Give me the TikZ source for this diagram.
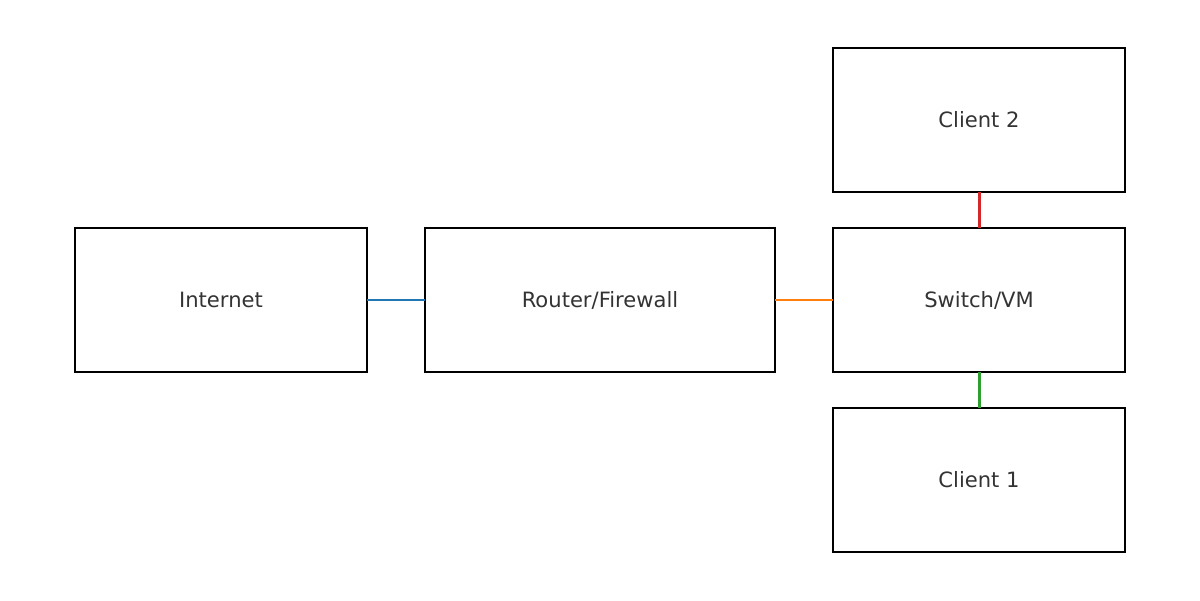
\documentclass[tikz,border=0pt]{standalone}
\usepackage{fontspec}
\setmainfont{DejaVu Sans}
\usetikzlibrary{positioning}
\definecolor{linkblue}{HTML}{1F77B4}
\definecolor{linkorange}{HTML}{FF7F0E}
\definecolor{linkred}{HTML}{D62728}
\definecolor{linkgreen}{HTML}{2CA02C}
\definecolor{labelgray}{HTML}{333333}
\tikzset{netbox/.style={draw, line width=1.1pt, minimum width=5.84cm, minimum height=2.88cm, inner sep=0pt, outer sep=0pt, text=labelgray, font=\fontsize{12}{14}\selectfont}}
\tikzset{netlink/.style={line width=1.7pt}}

\begin{document}
\begin{tikzpicture}[node distance=1.16cm]
\useasboundingbox (0,0) rectangle (24,12);
\path node[netbox] (inet) at (4.42,6) {Internet};
\path node[netbox, minimum width=7cm, right =of inet] (router) {Router/Firewall};
\path node[netbox, right =of router] (switch) {Switch/VM};
\path node[netbox, above =0.72cm of switch] (client2) {Client 2};
\path node[netbox, below =0.72cm of switch] (client1) {Client 1};
\path (inet) edge[netlink, linkblue] (router);
\path (router) edge[netlink, linkorange] (switch);
\path (switch) edge[netlink, linkred] (client2);
\path (switch) edge[netlink, linkgreen] (client1);
\end{tikzpicture}
\end{document}
